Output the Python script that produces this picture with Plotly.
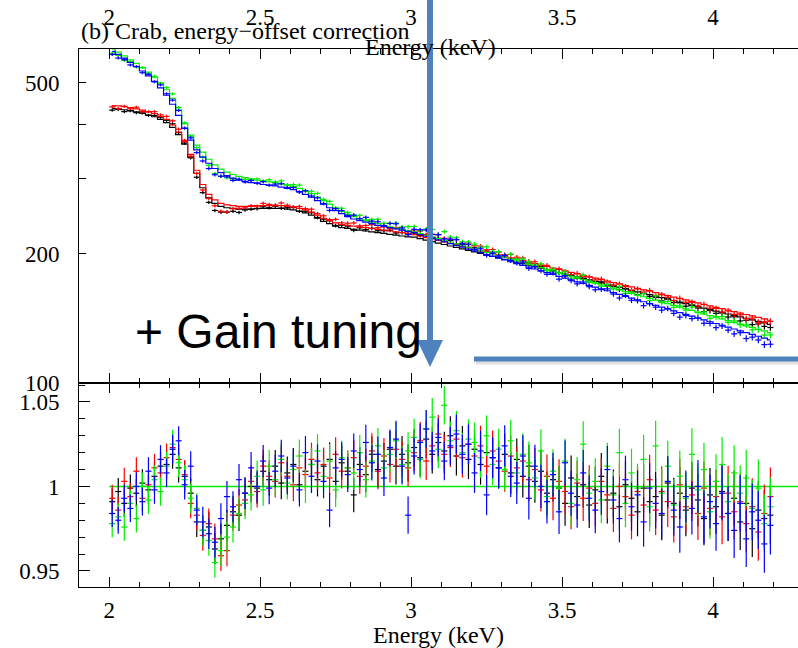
import plotly.graph_objects as go

# ---------------- data ----------------
energy = [2.01, 2.03, 2.05, 2.07, 2.09, 2.11, 2.13, 2.15, 2.17, 2.19,
          2.21, 2.23, 2.25, 2.27, 2.29, 2.31, 2.33, 2.35, 2.37, 2.39,
          2.41, 2.43, 2.45, 2.47, 2.49, 2.51, 2.53, 2.55, 2.57, 2.59,
          2.61, 2.63, 2.65, 2.67, 2.69, 2.71, 2.73, 2.75, 2.77, 2.79,
          2.81, 2.83, 2.85, 2.87, 2.89, 2.91, 2.93, 2.95, 2.97, 2.99,
          3.01, 3.03, 3.05, 3.07, 3.09, 3.11, 3.13, 3.15, 3.17, 3.19,
          3.21, 3.23, 3.25, 3.27, 3.29, 3.31, 3.33, 3.35, 3.37, 3.39,
          3.41, 3.43, 3.45, 3.47, 3.49, 3.51, 3.53, 3.55, 3.57, 3.59,
          3.61, 3.63, 3.65, 3.67, 3.69, 3.71, 3.73, 3.75, 3.77, 3.79,
          3.81, 3.83, 3.85, 3.87, 3.89, 3.91, 3.93, 3.95, 3.97, 3.99,
          4.01, 4.03, 4.05, 4.07, 4.09, 4.11, 4.13, 4.15, 4.17, 4.19]
bin_half = 0.01

model_black = [436, 435, 433, 431, 428, 425, 421, 417, 411, 404,
               394, 379, 360, 336, 308, 285, 270, 262, 258, 256,
               255, 254, 254, 254, 255, 255, 255, 255, 255, 254,
               253, 251, 249, 246, 242, 238, 235, 232, 230, 229,
               228, 227, 226, 225, 224, 223, 222, 221, 220, 219,
               218.6, 216.9, 215.2, 213.5, 211.8, 210.2, 208.5, 206.9, 205.3, 203.7,
               202.1, 200.5, 198.9, 197.3, 195.8, 194.2, 192.7, 191.2, 189.7, 188.2,
               186.7, 185.2, 183.8, 182.3, 180.9, 179.4, 178.0, 176.6, 175.2, 173.8,
               172.5, 171.1, 169.7, 168.4, 167.1, 165.7, 164.4, 163.1, 161.8, 160.6,
               159.3, 158.0, 156.8, 155.5, 154.3, 153.1, 151.9, 150.7, 149.5, 148.3,
               147.1, 146.0, 144.8, 143.7, 142.5, 141.4, 140.3, 139.2, 138.1, 137.0]
model_red = [443, 442, 440, 438, 435, 432, 428, 424, 418, 411,
             399, 384, 365, 341, 313, 290, 275, 267, 262, 260,
             259, 258, 258, 258, 259, 259, 259, 259, 259, 258,
             257, 255, 253, 250, 246, 242, 239, 236, 234, 233,
             232, 231, 230, 229, 228, 227, 226, 225, 224, 223,
             221.6, 219.9, 218.2, 216.5, 214.8, 213.2, 211.5, 209.9, 208.3, 206.7,
             205.1, 203.5, 201.9, 200.3, 198.8, 197.2, 195.7, 194.2, 192.7, 191.2,
             189.7, 188.2, 186.8, 185.3, 183.9, 182.4, 181.0, 179.6, 178.2, 176.8,
             175.5, 174.1, 172.7, 171.4, 170.1, 168.7, 167.4, 166.1, 164.8, 163.6,
             162.3, 161.0, 159.8, 158.5, 157.3, 156.1, 154.9, 153.7, 152.5, 151.3,
             150.1, 149.0, 147.8, 146.7, 145.5, 144.4, 143.3, 142.2, 141.1, 140.0]
model_green = [600, 590, 578, 566, 555, 543, 530, 516, 500, 482,
               460, 432, 402, 378, 358, 345, 332, 322, 315, 310,
               306, 303, 301, 299, 297, 296, 294, 293, 291, 289,
               287, 284, 280, 276, 271, 266, 261, 256, 251, 247,
               244, 241, 239, 237, 235, 233, 231, 229.5, 228, 226.5,
               225.0, 222.9, 220.9, 218.9, 216.9, 214.9, 213.0, 211.0, 209.1, 207.2,
               205.3, 203.4, 201.6, 199.7, 197.9, 196.1, 194.3, 192.5, 190.8, 189.0,
               187.3, 185.6, 183.9, 182.2, 180.6, 178.9, 177.3, 175.7, 174.1, 172.5,
               170.9, 169.3, 167.8, 166.3, 164.7, 163.2, 161.7, 160.3, 158.8, 157.4,
               155.9, 154.5, 153.1, 151.7, 150.3, 148.9, 147.6, 146.2, 144.9, 143.6,
               142.3, 141.0, 139.7, 138.4, 137.2, 135.9, 134.7, 133.4, 132.2, 131.0]
model_blue = [592, 583, 571, 558, 546, 533, 519, 504, 487, 468,
              446, 420, 392, 368, 349, 336, 325, 316, 309, 304,
              300, 297, 295, 293, 292, 290, 289, 288, 286, 284,
              282, 279, 275, 271, 266, 261, 256, 252, 248, 244,
              241, 239, 237, 235, 233, 231.5, 230, 228.5, 227, 225.5,
              224.0, 221.8, 219.7, 217.5, 215.4, 213.3, 211.2, 209.2, 207.2, 205.1,
              203.1, 201.2, 199.2, 197.3, 195.4, 193.5, 191.6, 189.7, 187.9, 186.1,
              184.3, 182.5, 180.7, 179.0, 177.2, 175.5, 173.8, 172.1, 170.5, 168.8,
              167.2, 165.6, 164.0, 162.4, 160.8, 159.2, 157.7, 156.2, 154.6, 153.1,
              151.7, 150.2, 148.7, 147.3, 145.9, 144.5, 143.1, 141.7, 140.3, 138.9,
              137.6, 136.3, 134.9, 133.6, 132.3, 131.0, 129.8, 128.5, 127.2, 126.0]

ratio_black = [0.991, 0.997, 0.990, 0.999, 0.996, 1.002, 0.998, 1.006, 1.012, 1.013,
               1.019, 1.011, 1.006, 0.996, 0.979, 0.974, 0.976, 0.963, 0.969, 0.977,
               0.985, 0.983, 0.996, 1.000, 0.999, 1.009, 1.004, 1.012, 1.002, 1.008,
               1.013, 1.001, 1.009, 1.013, 1.004, 1.012, 1.016, 1.003, 1.014, 1.009,
               0.995, 1.013, 1.007, 1.019, 1.010, 1.015, 1.022, 1.012, 1.019, 1.014,
               1.023, 1.017, 1.028, 1.019, 1.026, 1.021, 1.030, 1.018, 1.024, 1.016,
               1.022, 1.013, 1.020, 1.017, 1.011, 1.019, 1.008, 1.016, 1.006, 1.012,
               1.003, 1.009, 0.996, 1.004, 0.999, 0.990, 1.005, 0.994, 1.001, 0.989,
               0.998, 1.006, 0.992, 0.996, 0.988, 1.001, 0.993, 0.985, 0.999, 0.991,
               0.994, 0.983, 1.002, 0.990, 0.996, 0.986, 0.999, 0.992, 0.981, 0.995,
               0.988, 0.997, 0.984, 0.993, 0.979, 0.990, 0.975, 0.986, 0.981, 0.983]
ratio_red = [0.993, 0.986, 1.003, 0.994, 1.009, 0.993, 1.001, 1.011, 1.008, 1.017,
             1.023, 1.016, 1.007, 0.990, 0.983, 0.971, 0.978, 0.969, 0.959, 0.962,
             0.983, 0.989, 0.992, 1.003, 0.997, 1.012, 1.006, 1.003, 1.014, 1.006,
             1.001, 1.011, 1.007, 1.016, 1.008, 1.013, 1.005, 1.019, 1.009, 1.011,
             1.017, 1.006, 1.012, 1.021, 1.009, 1.018, 1.013, 1.022, 1.016, 1.011,
             1.020, 1.027, 1.015, 1.024, 1.031, 1.019, 1.023, 1.028, 1.017, 1.025,
             1.018, 1.024, 1.012, 1.021, 1.015, 1.009, 1.018, 1.011, 1.015, 1.004,
             1.010, 0.998, 1.006, 0.993, 1.003, 0.997, 0.988, 1.002, 0.993, 0.999,
             0.990, 1.003, 0.995, 0.987, 1.000, 0.994, 0.983, 0.997, 0.989, 1.004,
             0.986, 0.997, 0.991, 0.982, 1.001, 0.988, 0.995, 0.984, 0.999, 0.987,
             0.994, 0.982, 0.996, 0.985, 0.991, 0.978, 0.988, 0.973, 0.984, 0.994]
ratio_green = [0.978, 0.982, 0.976, 0.990, 0.981, 1.000, 0.992, 1.004, 0.997, 1.012,
               1.025, 1.014, 1.004, 0.993, 0.987, 0.974, 0.968, 0.955, 0.962, 0.970,
               0.976, 0.984, 0.990, 0.995, 1.006, 0.998, 1.012, 1.004, 1.016, 1.002,
               1.010, 1.018, 1.000, 1.013, 1.021, 1.006, 1.015, 0.998, 1.017, 1.011,
               1.008, 1.020, 1.004, 1.015, 1.024, 1.011, 1.019, 1.027, 1.013, 1.021,
               1.029, 1.016, 1.034, 1.041, 1.022, 1.048, 1.027, 1.033, 1.020, 1.028,
               1.026, 1.017, 1.030, 1.013, 1.022, 1.010, 1.027, 1.008, 1.019, 1.014,
               1.005, 1.021, 0.994, 1.009, 0.999, 1.015, 0.990, 1.004, 1.025, 0.996,
               1.003, 0.992, 1.012, 0.995, 1.020, 0.990, 1.008, 0.999, 1.016, 0.988,
               1.024, 0.996, 1.012, 0.989, 1.006, 0.993, 1.019, 0.998, 1.010, 0.985,
               1.003, 1.013, 0.991, 1.008, 0.996, 1.005, 0.987, 0.999, 0.978, 0.988]
ratio_blue = [0.984, 0.980, 0.993, 0.987, 1.000, 0.991, 1.009, 0.998, 1.016, 1.008,
              1.022, 1.027, 1.001, 1.012, 0.986, 0.979, 0.972, 0.967, 0.981, 0.994,
              0.988, 1.004, 0.996, 1.011, 1.000, 1.015, 0.999, 1.009, 1.018, 1.005,
              1.012, 0.998, 1.020, 1.006, 1.015, 1.003, 0.986, 1.011, 1.016, 1.007,
              1.021, 1.010, 1.026, 1.014, 1.019, 1.005, 1.023, 1.028, 1.012, 0.983,
              1.018, 1.026, 1.034, 1.021, 1.029, 1.015, 1.024, 1.031, 1.019, 1.025,
              1.008, 1.021, 0.995, 1.017, 1.011, 1.024, 1.006, 1.002, 1.018, 0.993,
              1.012, 1.000, 0.991, 1.007, 0.985, 1.014, 0.996, 0.989, 1.008, 0.993,
              0.986, 0.997, 1.010, 0.992, 0.981, 1.004, 0.988, 0.995, 0.979, 0.999,
              0.990, 0.984, 1.003, 0.986, 0.976, 0.994, 0.987, 1.000, 0.982, 0.991,
              0.978, 0.996, 0.984, 0.974, 0.990, 0.969, 0.985, 0.980, 0.966, 0.977]
ratio_err = [0.0080, 0.0080, 0.0081, 0.0081, 0.0082, 0.0082, 0.0083, 0.0083, 0.0084, 0.0084,
             0.0085, 0.0086, 0.0087, 0.0088, 0.0089, 0.0090, 0.0090, 0.0091, 0.0091, 0.0092,
             0.0092, 0.0093, 0.0093, 0.0094, 0.0094, 0.0095, 0.0095, 0.0096, 0.0096, 0.0097,
             0.0097, 0.0098, 0.0098, 0.0099, 0.0099, 0.0100, 0.0101, 0.0101, 0.0102, 0.0103,
             0.0103, 0.0104, 0.0105, 0.0105, 0.0106, 0.0107, 0.0107, 0.0108, 0.0109, 0.0110,
             0.0110, 0.0111, 0.0112, 0.0113, 0.0113, 0.0114, 0.0115, 0.0116, 0.0117, 0.0117,
             0.0118, 0.0119, 0.0120, 0.0121, 0.0122, 0.0122, 0.0123, 0.0124, 0.0125, 0.0126,
             0.0127, 0.0128, 0.0129, 0.0130, 0.0131, 0.0132, 0.0133, 0.0134, 0.0135, 0.0136,
             0.0137, 0.0138, 0.0139, 0.0140, 0.0141, 0.0142, 0.0143, 0.0145, 0.0146, 0.0147,
             0.0148, 0.0149, 0.0150, 0.0152, 0.0153, 0.0154, 0.0155, 0.0157, 0.0158, 0.0159,
             0.0160, 0.0162, 0.0163, 0.0164, 0.0166, 0.0167, 0.0168, 0.0170, 0.0171, 0.0172]

ref_line_x = [2.0, 4.3]
ref_line_y = [1.0, 1.0]

series = [
    ("black", model_black, ratio_black, "#000000"),
    ("red", model_red, ratio_red, "#ff0000"),
    ("green", model_green, ratio_green, "#00ee00"),
    ("blue", model_blue, ratio_blue, "#0000ff"),
]

# ---------------- figure ----------------
W, H = 798, 648
ML, MR, MT, MB = 79, 0, 49, 61
PW, PH = W - ML - MR, H - MT - MB
split = (587 - 383) / PH  # bottom panel height fraction

def px(x):
    return (x - ML) / PW

def py(y):
    return (H - MB - y) / PH

fig = go.Figure()

for name, model, ratio, col in series:
    counts = [m * r for m, r in zip(model, ratio)]
    cerr = [m * e for m, e in zip(model, ratio_err)]
    fig.add_trace(go.Scatter(
        x=energy, y=counts, mode="markers", xaxis="x", yaxis="y",
        marker=dict(size=1, color=col),
        error_x=dict(type="constant", value=bin_half, thickness=1.2, width=0, color=col),
        error_y=dict(type="data", array=cerr, thickness=1.2, width=0, color=col),
        showlegend=False, hoverinfo="skip"))
    fig.add_trace(go.Scatter(
        x=energy, y=model, mode="lines", line=dict(shape="hvh", color=col, width=1.2),
        xaxis="x", yaxis="y", showlegend=False, hoverinfo="skip"))

fig.add_trace(go.Scatter(x=ref_line_x, y=ref_line_y, mode="lines",
                         line=dict(color="#00ee00", width=1.5),
                         xaxis="x2", yaxis="y2", showlegend=False, hoverinfo="skip"))

for name, model, ratio, col in series:
    fig.add_trace(go.Scatter(
        x=energy, y=ratio, mode="markers", xaxis="x2", yaxis="y2",
        marker=dict(size=1, color=col),
        error_x=dict(type="constant", value=bin_half, thickness=1.2, width=0, color=col),
        error_y=dict(type="data", array=ratio_err, thickness=1.2, width=0, color=col),
        showlegend=False, hoverinfo="skip"))

serif = "Liberation Serif, Times New Roman, serif"
tickfont = dict(family=serif, size=23, color="black")
labelfont = dict(family=serif, size=24, color="black")
xr = [1.9, 2 + (W - 109) / 302]

common_x = dict(range=xr, showgrid=False, zeroline=False, showline=True, linecolor="black",
                linewidth=1, ticks="inside", ticklen=10, tickcolor="black", tick0=2, dtick=0.5,
                mirror="ticks", tickfont=tickfont,
                minor=dict(ticks="inside", dtick=0.1, ticklen=5, tickcolor="black"))

fig.update_layout(
    width=W, height=H, margin=dict(l=ML, r=MR, t=MT, b=MB),
    paper_bgcolor="white", plot_bgcolor="white",
    xaxis=dict(domain=[0, 1], anchor="y", side="top", ticklabelstandoff=14, **common_x),
    xaxis2=dict(domain=[0, 1], anchor="y2", side="bottom", ticklabelstandoff=2,
                title=dict(text="Energy (keV)", font=labelfont, standoff=3), **common_x),
    yaxis=dict(domain=[split, 1], anchor="x", type="log", range=[2, 2.778],
               tickvals=[100, 200, 300, 400, 500, 600],
               ticktext=["100", "200", "", "", "500", ""],
               showgrid=False, zeroline=False, showline=True, linecolor="black", linewidth=1,
               ticks="inside", ticklen=7, tickcolor="black", tickfont=tickfont,
               ticklabelstandoff=14),
    yaxis2=dict(domain=[0, split], anchor="x2", range=[0.9405, 1.0612],
                tickvals=[0.95, 1.0, 1.05], ticktext=["0.95", "1", "1.05"],
                showgrid=False, zeroline=False, showline=True, linecolor="black", linewidth=1,
                ticks="inside", ticklen=11, tickcolor="black", tickfont=tickfont,
                ticklabelstandoff=14,
                minor=dict(ticks="inside", dtick=0.01, tick0=0.95, ticklen=6, tickcolor="black")),
)

# texts
fig.add_annotation(x=px(79), y=py(31), xref="paper", yref="paper", xanchor="left", yanchor="middle",
                   text="(b) Crab, energy\u2212offset correction", showarrow=False, font=labelfont)
fig.add_annotation(x=px(430), y=py(47), xref="paper", yref="paper", xanchor="center", yanchor="middle",
                   text="Energy (keV)", showarrow=False, font=labelfont)
fig.add_annotation(x=px(133), y=py(331), xref="paper", yref="paper", xanchor="left", yanchor="middle",
                   text="+ Gain tuning", showarrow=False,
                   font=dict(family="Liberation Sans, Arial, sans-serif", size=48, color="black"))

# slide overlay arrows
blue = "#4f81bd"
fig.add_shape(type="line", xref="paper", yref="paper", x0=px(476), x1=px(800), y0=py(362), y1=py(362),
              line=dict(color="rgba(0,0,0,0.12)", width=5), layer="above")
fig.add_shape(type="line", xref="paper", yref="paper", x0=px(474), x1=px(800), y0=py(359), y1=py(359),
              line=dict(color=blue, width=5), layer="above")
fig.add_shape(type="line", xref="paper", yref="paper", x0=px(430), x1=px(430), y0=py(-2), y1=py(342),
              line=dict(color=blue, width=6), layer="above")
fig.add_shape(type="path", xref="paper", yref="paper",
              path=f"M {px(417)} {py(340)} L {px(443)} {py(340)} L {px(430)} {py(367)} Z",
              fillcolor=blue, line=dict(color=blue, width=0), layer="above")

fig.write_html("out.html")
